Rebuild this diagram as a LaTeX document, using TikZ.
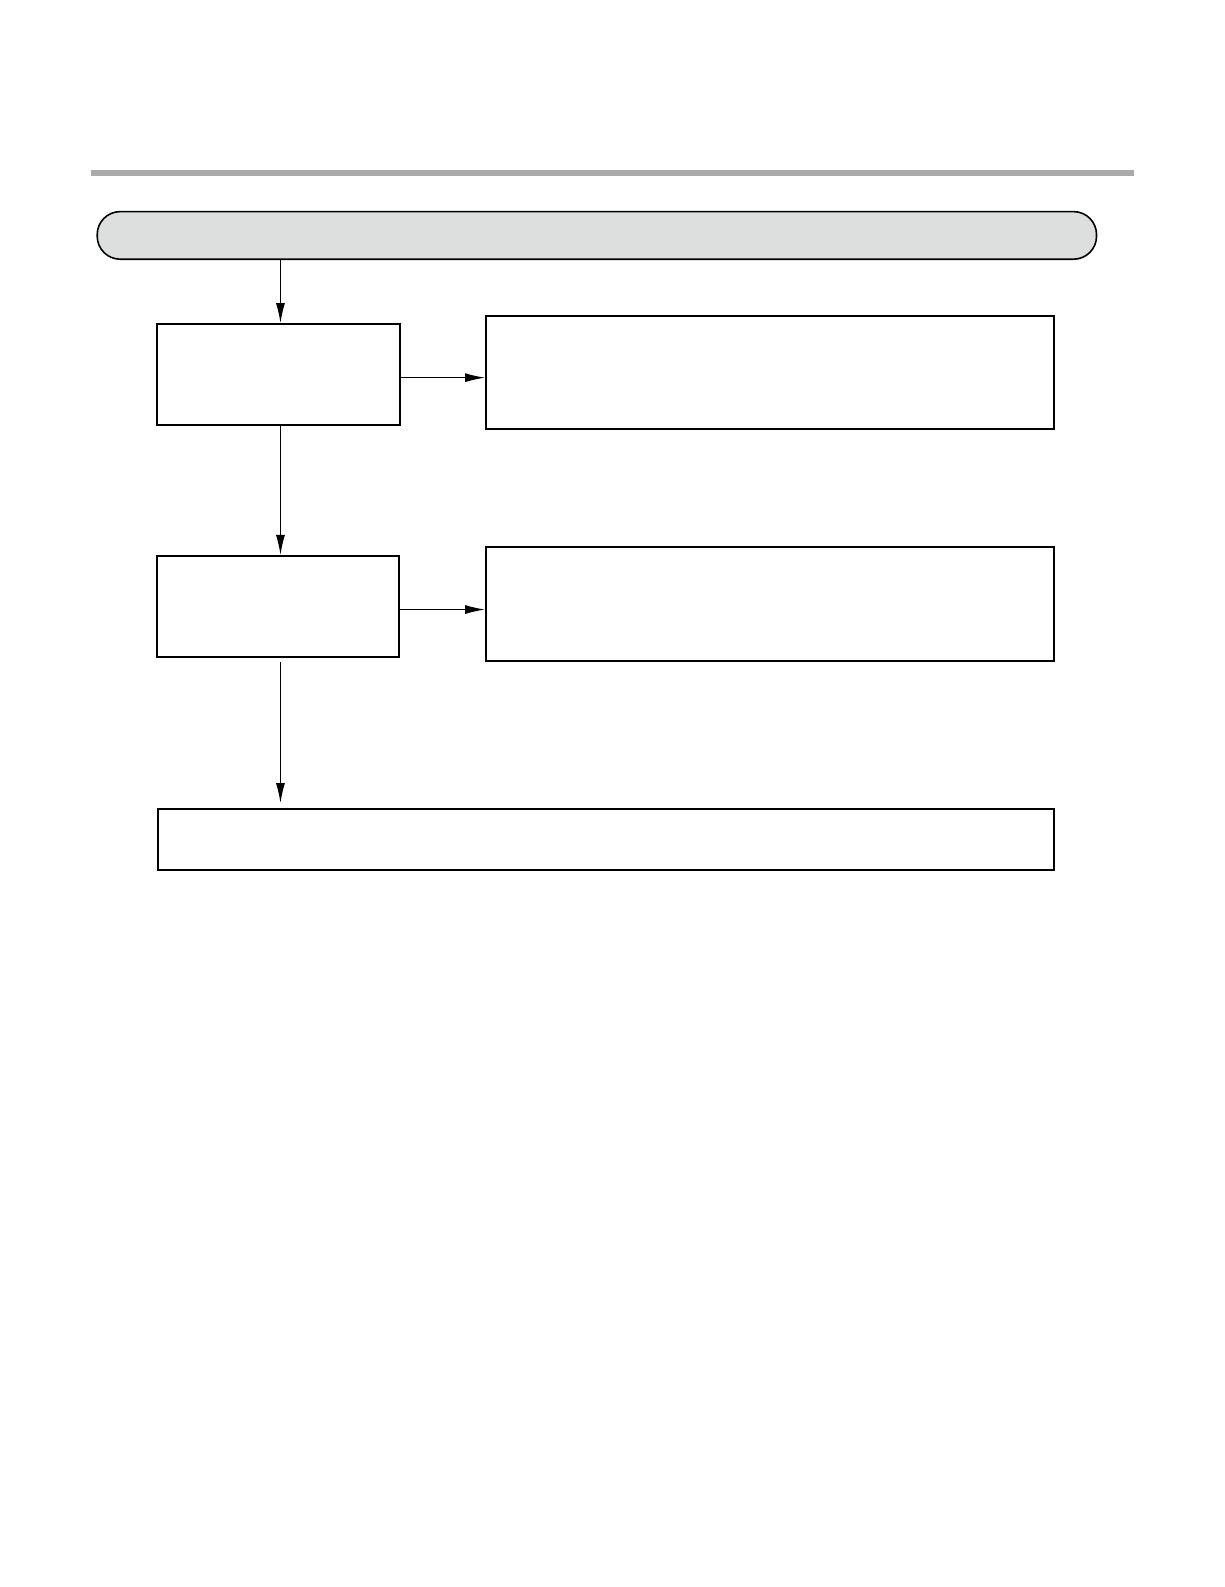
\documentclass[tikz,border=0pt]{standalone}
\usetikzlibrary{arrows.meta,fit}
\definecolor{barcol}{HTML}{AAAAAA}
\definecolor{pillfill}{HTML}{DDDFDF}
\begin{document}
\begin{tikzpicture}[x=1.0125pt,y=-1.0125pt,
  boxst/.style={draw=black,line width=1.8pt,inner sep=0pt,fill=white},
  conn/.style={line width=1.2pt,-{Latex[length=20pt,width=9pt]}}]
\useasboundingbox (0pt,0pt) rectangle (1225pt,-1587pt);
\fill[white] (0pt,0pt) rectangle (1225pt,-1587pt);
% gray top bar
\fill[barcol] (90,168) rectangle (1120,173.5);
% pill
\node[boxst,fill=pillfill,rounded corners=23pt,line width=1.6pt,fit={(96,209) (1083,256)}] (pill) {};
% boxes
\node[boxst,fit={(155,320) (395,420)}] (b1) {};
\node[boxst,fit={(480,312) (1041,424)}] (r1) {};
\node[boxst,fit={(155,549) (394,649)}] (b2) {};
\node[boxst,fit={(480,540) (1041,653)}] (r2) {};
\node[boxst,fit={(156,799) (1041,859)}] (b3) {};
% connectors
\coordinate (p1) at (277,256);
\draw[conn] (pill.south -| p1) -- (b1.north -| p1);
\draw[conn] (b1.south -| p1) -- (b2.north -| p1);
\draw[conn,shorten <=4pt,shorten >=5pt] (b2.south -| p1) -- (b3.north -| p1);
\coordinate (h1) at (0,373);
\coordinate (h2) at (0,602);
\draw[conn] (b1.east |- h1) -- (r1.west |- h1);
\draw[conn] (b2.east |- h2) -- (r2.west |- h2);
\end{tikzpicture}
\end{document}
